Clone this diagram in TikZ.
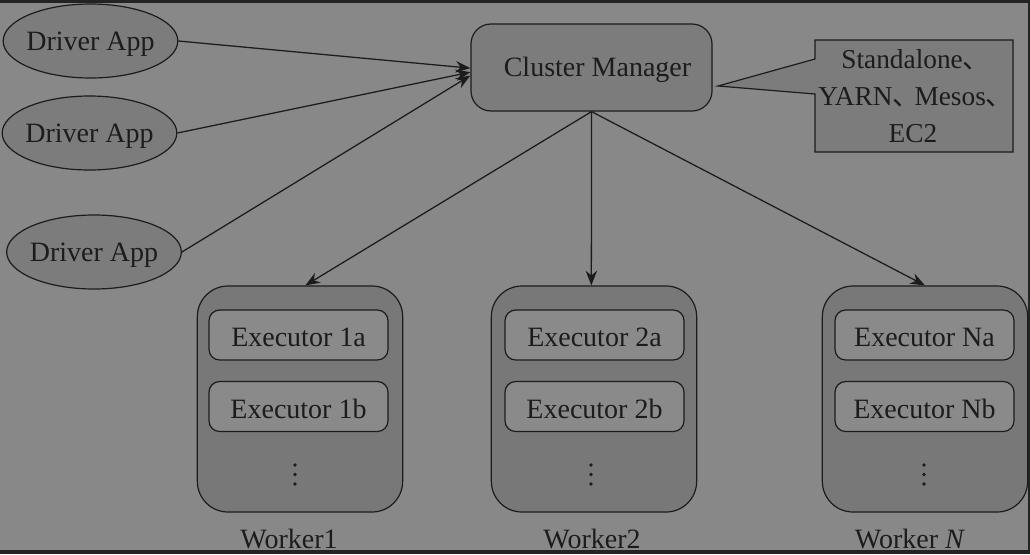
\documentclass[tikz,border=0pt]{standalone}
\usepackage{fontspec}
\setmainfont{Liberation Serif}
\newfontfamily\cjkfont{Noto Sans CJK SC}
\usetikzlibrary{arrows.meta,shapes.geometric}
\definecolor{bgc}{RGB}{136,136,136}
\definecolor{edgec}{RGB}{28,28,28}
\definecolor{framec}{RGB}{35,35,35}
\definecolor{nodec}{RGB}{124,124,124}
\definecolor{workc}{RGB}{120,120,120}
\definecolor{execc}{RGB}{138,138,138}
\newcommand{\dun}{\makebox[0.8em][l]{\cjkfont 、}}
\tikzset{
  txt/.style={text=edgec, font=\fontsize{21}{26}\selectfont},
  drv/.style={ellipse, draw=edgec, line width=0.9pt, fill=nodec, minimum width=131pt, minimum height=55.5pt, inner sep=0pt},
  mgr/.style={rectangle, rounded corners=15pt, draw=edgec, line width=0.9pt, fill=nodec, minimum width=180.75pt, minimum height=65.25pt, inner sep=0pt},
  wrk/.style={rectangle, rounded corners=23pt, draw=edgec, line width=0.9pt, fill=workc, minimum width=154pt, minimum height=169.5pt, inner sep=0pt},
  exe/.style={rectangle, rounded corners=8pt, draw=edgec, line width=0.9pt, fill=execc, minimum width=134.25pt, minimum height=37.5pt, inner sep=0pt},
  conn/.style={draw=edgec, line width=0.95pt, -{Stealth[length=11pt,width=8.5pt]}},
  vdot/.style={circle, fill=edgec, inner sep=0pt, minimum size=2.8pt}
}
\begin{document}
\begin{tikzpicture}[x=0.75pt,y=-0.75pt]
\useasboundingbox (0,0) rectangle (1030,554);
\fill[bgc] (0,0) rectangle (1030,554);
\fill[framec] (0,0) rectangle (1030,2.5);
\fill[framec] (0,550) rectangle (1030,554);
\fill[framec] (1028,0) rectangle (1030,554);

% driver apps
\node[drv, label={[txt, yshift=-2.5pt]center:Driver App}] (d1) at (90.5,41) {};
\node[drv, label={[txt, yshift=-2.5pt]center:Driver App}] (d2) at (89.5,133) {};
\node[drv, label={[txt, yshift=-2.5pt]center:Driver App}] (d3) at (94,252) {};

% cluster manager
\node[mgr, label={[txt, xshift=4.5pt, yshift=-2pt]center:Cluster Manager}] (cm) at (591.5,67.5) {};

% callout
\draw[draw=edgec, line width=0.9pt, fill=nodec] (815,40) -- (1013,40) -- (1013,152) -- (815,152) -- (815,94) -- (718,86) -- (815,59) -- cycle;
\node[txt, align=center, font=\fontsize{20.5}{27.75}\selectfont] (cb) at (913,96) {Standalone\dun\\YARN\dun Mesos\dun\\EC2};

% workers
\node[wrk] (w1) at (300,399) {};
\node[wrk] (w2) at (594,399) {};
\node[wrk] (wn) at (925,399) {};

\node[exe, label={[txt, yshift=-1.5pt]center:Executor 1a}] (e1a) at (298.5,335) {};
\node[exe, label={[txt, yshift=-1.5pt]center:Executor 1b}] (e1b) at (298.5,406.5) {};
\node[exe, label={[txt, yshift=-1.5pt]center:Executor 2a}] (e2a) at (594.5,335) {};
\node[exe, label={[txt, yshift=-1.5pt]center:Executor 2b}] (e2b) at (594.5,406.5) {};
\node[exe, label={[txt, yshift=-1.5pt]center:Executor Na}] (ena) at (924.5,335) {};
\node[exe, label={[txt, yshift=-1.5pt]center:Executor Nb}] (enb) at (924.5,406.5) {};

\foreach \x/\n in {295/a,591/b,924/c}{
  \node[vdot] (dot\n1) at (\x,465) {};
  \node[vdot] (dot\n2) at (\x,474.5) {};
  \node[vdot] (dot\n3) at (\x,484) {};
}

\node[txt, anchor=base] (l1) at (289,548) {Worker1};
\node[txt, anchor=base] (l2) at (592,548) {Worker2};
\node[txt, anchor=base] (ln) at (910,548) {Worker \textit{N}};

% connectors
\draw[conn] (d1.east) -- ([yshift=-0.5pt]cm.west);
\draw[conn] (d2.east) -- ([yshift=-3.5pt]cm.west);
\draw[conn] (d3.east) -- ([yshift=-6pt]cm.west);
\draw[conn] (cm.south) -- ([xshift=4pt]w1.north);
\draw[conn] (cm.south) -- ([xshift=-2pt]w2.north);
\draw[conn] (cm.south) -- (wn.north);
\end{tikzpicture}
\end{document}
